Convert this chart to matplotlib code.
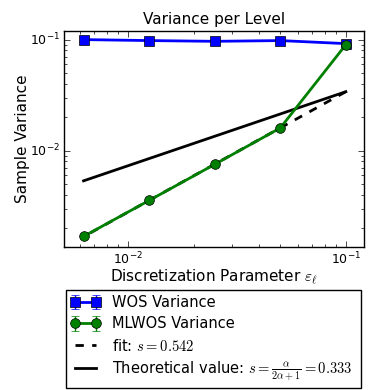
import numpy as np
import matplotlib
matplotlib.use('Agg')
import matplotlib.pyplot as plt

plt.style.use('classic')

# Discretization parameters per level
eps = [0.1, 0.05, 0.025, 0.0125, 0.00625]

# Sample variances
wos_var = [0.092, 0.098, 0.0965, 0.098, 0.100]
mlwos_var = [0.090, 0.0160, 0.00753, 0.00356, 0.00169]
wos_err = [0.001, 0.001, 0.001, 0.001, 0.001]
mlwos_err = [0.001, 0.0002, 0.0001, 0.00005, 0.00002]

s_fit = 0.542        # fitted rate (variance ~ eps^(2s))
alpha_theory = 1.0

eps_arr = np.array(eps)
# intercept of the fit on the fine levels, slope fixed to 2*s_fit
log_c = np.mean(np.log(np.array(mlwos_var[1:])) - 2 * s_fit * np.log(eps_arr[1:]))
fit_line = np.exp(log_c) * eps_arr ** (2 * s_fit)
s_theory = alpha_theory / (2 * alpha_theory + 1)
theory_line = fit_line[0] * (eps_arr / eps_arr[0]) ** (2 * s_theory)

fig = plt.figure(figsize=(3.9, 3.9), dpi=100, facecolor='white')
ax = fig.add_axes([0.164, 0.367, 0.769, 0.554])

h1 = ax.errorbar(eps, wos_var, yerr=wos_err, color='blue', marker='s',
                 markersize=7, linewidth=2, capsize=3, elinewidth=1,
                 label='WOS Variance')
h2 = ax.errorbar(eps, mlwos_var, yerr=mlwos_err, color='green', marker='o',
                 markersize=7, linewidth=2, capsize=3, elinewidth=1,
                 label='MLWOS Variance')
h3, = ax.plot(eps, fit_line, 'k--', linewidth=2,
              label=r'fit: $s = %.3f$' % s_fit)
h4, = ax.plot(eps, theory_line, 'k-', linewidth=2,
              label=r'Theoretical value: $s = \frac{\alpha}{2\alpha+1} = %.3f$' % s_theory)

ax.set_xscale('log')
ax.set_yscale('log')
ax.set_xlim(0.00508, 0.121)
ax.set_ylim(0.00136, 0.12)
ax.tick_params(labelsize=9, pad=3)

ax.set_title('Variance per Level', fontsize=11)
ax.set_xlabel(r'Discretization Parameter $\varepsilon_\ell$', fontsize=11, labelpad=0)
ax.set_ylabel('Sample Variance', fontsize=11, labelpad=0)

fig.legend(handles=[h1, h2, h3, h4], loc='upper left',
           bbox_to_anchor=(0.169, 0.256, 0.756, 0.0), mode='expand',
           fontsize=10.5, numpoints=2, borderaxespad=0.0,
           borderpad=0.35, labelspacing=0.42)

fig.savefig('out.png', dpi=100, facecolor='white')
